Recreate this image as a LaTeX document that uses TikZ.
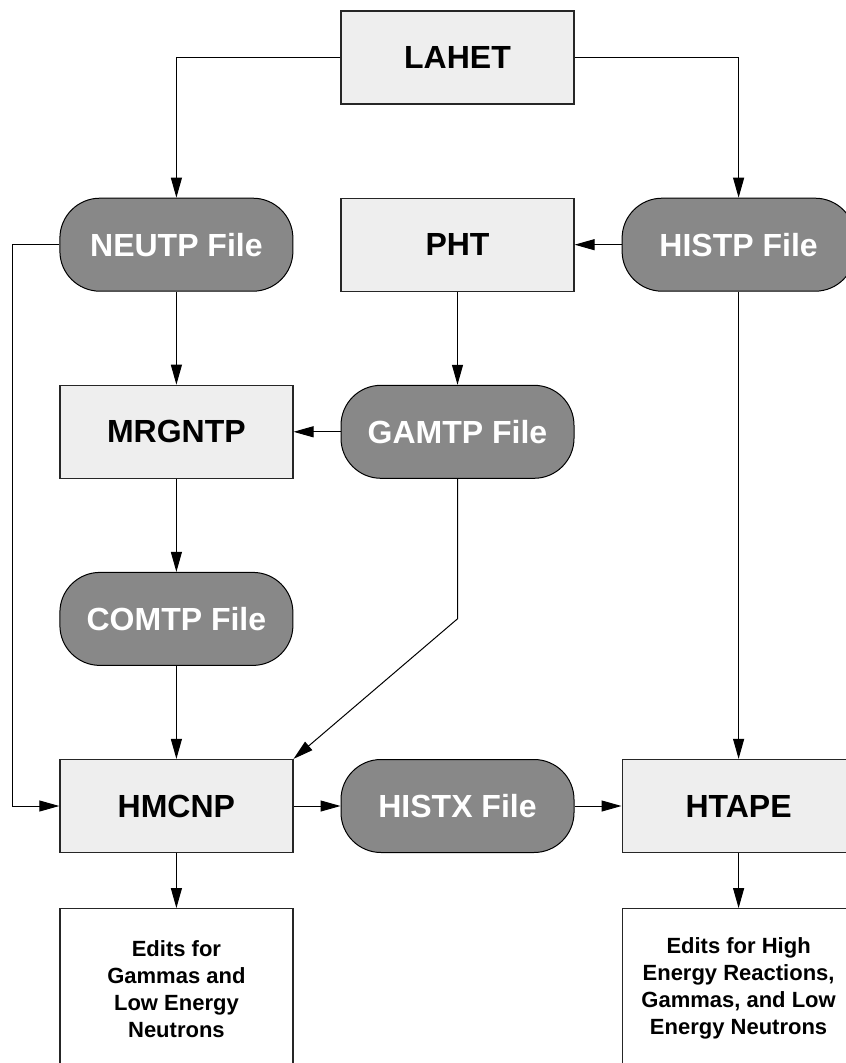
\documentclass[tikz,border=0pt]{standalone}
\usepackage{fontspec}
\setmainfont{Liberation Sans}
\usepackage{tikz}
\usetikzlibrary{arrows.meta,positioning}
\usepackage{xcolor}
\definecolor{boxgray}{HTML}{EEEEEE}
\definecolor{filegray}{HTML}{888888}

\begin{document}
\begin{tikzpicture}[
      x=0.5pt, y=-0.5pt,
      >={Triangle[length=10pt,width=5.5pt]},
      node distance=46.5pt and 23.5pt,
      codebox/.style={draw=black!85, line width=0.6pt, fill=boxgray, minimum width=116.5pt, minimum height=46.5pt, inner sep=0pt, font=\fontsize{16}{19}\selectfont\bfseries},
      filebox/.style={draw=black, line width=0.5pt, fill=filegray, rounded corners=20pt, minimum width=116.5pt, minimum height=46.5pt, inner sep=0pt, text=white, font=\fontsize{16}{19}\selectfont\bfseries},
      editbox/.style={draw=black!85, line width=0.6pt, fill=white, minimum width=116.5pt, minimum height=80pt, inner sep=0pt, align=center, font=\fontsize{11}{13.5}\selectfont\bfseries},
      flow/.style={->, line width=0.5pt}
    ]
    \useasboundingbox (0,0) rectangle (845,1063);

    \node[codebox] (lahet) at (457.5,57.5) {LAHET};
    \node[codebox, below=of lahet] (pht) {PHT};
    \node[filebox, left=of pht] (neutp) {NEUTP File};
    \node[filebox, right=of pht] (histp) {HISTP File};
    \node[filebox, below=of pht] (gamtp) {GAMTP File};
    \node[codebox, left=of gamtp] (mrgntp) {MRGNTP};
    \node[filebox, below=of mrgntp] (comtp) {COMTP File};
    \node[codebox, below=of comtp] (hmcnp) {HMCNP};
    \node[filebox, right=of hmcnp] (histx) {HISTX File};
    \node[codebox, right=of histx] (htape) {HTAPE};
    \node[editbox, below=27.5pt of hmcnp] (editlow) {Edits for\\Gammas and\\Low Energy\\Neutrons};
    \node[editbox, below=27.5pt of htape] (edithigh) {Edits for High\\Energy Reactions,\\Gammas, and Low\\Energy Neutrons};

    \coordinate (gambend) at ([yshift=-70pt]gamtp.south);

    \draw[flow] (lahet.west) -| (neutp.north);
    \draw[flow] (lahet.east) -| (histp.north);
    \draw[flow] (histp) -- (pht);
    \draw[flow] (neutp) -- (mrgntp);
    \draw[flow] (pht) -- (gamtp);
    \draw[flow] (gamtp) -- (mrgntp);
    \draw[flow] (mrgntp) -- (comtp);
    \draw[flow] (comtp) -- (hmcnp);
    \draw[flow] (gamtp.south) -- (gambend) -- (hmcnp.north east);
    \draw[flow] (neutp.west) -- ++(-23.5pt,0) |- (hmcnp.west);
    \draw[flow] (histp) -- (htape);
    \draw[flow] (hmcnp) -- (histx);
    \draw[flow] (histx) -- (htape);
    \draw[flow] (hmcnp) -- (editlow);
    \draw[flow] (htape) -- (edithigh);
  \end{tikzpicture}
\end{document}
